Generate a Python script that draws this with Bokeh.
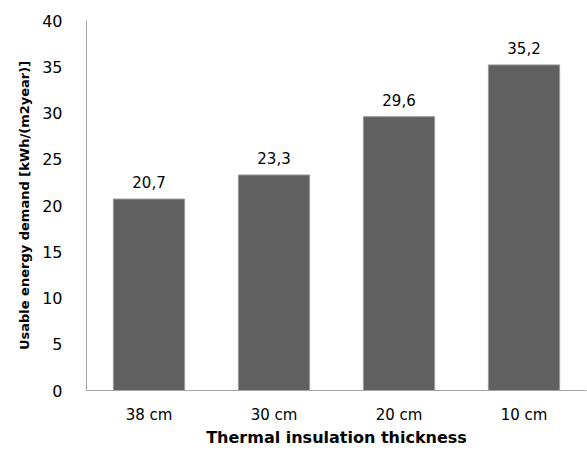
from bokeh.plotting import figure
from bokeh.models import ColumnDataSource, Range1d, FixedTicker, LabelSet
from bokeh.core.properties import value
from bokeh.embed import file_html
from bokeh.resources import INLINE

categories = ["38 cm", "30 cm", "20 cm", "10 cm"]
values = [20.7, 23.3, 29.6, 35.2]
value_labels = ["20,7", "23,3", "29,6", "35,2"]
y_ticks = [0, 5, 10, 15, 20, 25, 30, 35, 40]

src = ColumnDataSource(dict(cat=categories, val=values, lab=value_labels))

FONT = "DejaVu Sans"

p = figure(x_range=categories, y_range=Range1d(0, 40), width=587, height=453,
           output_backend="svg", toolbar_location=None,
           min_border_left=86, min_border_right=1, min_border_top=20, min_border_bottom=63)
p.outline_line_color = None
p.grid.grid_line_color = None
p.x_range.range_padding = 0

p.vbar(x="cat", top="val", width=0.57, source=src, fill_color="#606060", line_color="#9a9a9a", line_width=1)

labels = LabelSet(x="cat", y="val", text="lab", source=src, text_align="center",
                  text_baseline="bottom", y_offset=11, text_font=value(FONT),
                  text_font_size="15px", text_color="#000000")
p.add_layout(labels)

p.yaxis.ticker = FixedTicker(ticks=y_ticks)
for ax in (p.xaxis[0], p.yaxis[0]):
    ax.axis_line_color = "#a6a6a6"
    ax.major_tick_line_color = None
    ax.minor_tick_line_color = None
    ax.major_label_text_font = FONT
    ax.major_label_text_font_size = "15px"
    ax.major_label_text_color = "#000000"
    ax.axis_label_text_font = FONT
    ax.axis_label_text_font_style = "bold"
    ax.axis_label_text_color = "#000000"

p.yaxis.major_label_text_font_size = "16px"
p.yaxis.axis_label_text_font_size = "13px"
p.xaxis.axis_label_text_font_size = "16px"
p.yaxis.axis_label = "Usable energy demand [kWh/(m2year)]"
p.xaxis.axis_label = "Thermal insulation thickness"
p.yaxis.major_label_standoff = 18
p.xaxis.major_label_standoff = 9
p.yaxis.axis_label_standoff = 7
p.xaxis.axis_label_standoff = 1

open("out.html", "w").write(file_html(p, INLINE))
